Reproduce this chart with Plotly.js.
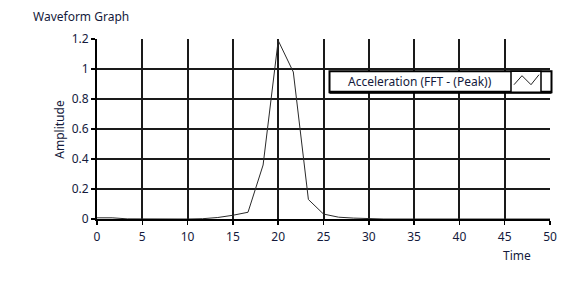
<!DOCTYPE html>
<html>
<head>
<meta charset="utf-8">
<script src="https://cdn.plot.ly/plotly-3.0.1.min.js"></script>
<style>html,body{margin:0;padding:0;background:#fff;}#chart{width:577px;height:296px;}</style>
</head>
<body>
<div id="chart"></div>
<script>
// Data (dt = 5/3)
const timeValues = [0, 1.667, 3.333, 5, 6.667, 8.333, 10, 11.667, 13.333, 15, 16.667, 18.333, 20, 21.667, 23.333, 25, 26.667, 28.333, 30, 31.667, 33.333, 35, 36.667, 38.333, 40, 41.667, 43.333, 45, 46.667, 48.333, 50];
const amplitudeValues = [0.008, 0.008, 0.001, 0, 0, 0, 0, 0.002, 0.01, 0.025, 0.045, 0.36, 1.19, 0.98, 0.13, 0.033, 0.012, 0.006, 0.002, 0, 0, 0, 0, 0, 0, 0, 0, 0, 0, 0, 0];
const seriesName = "Acceleration (FFT - (Peak))";
const xTickValues = [0, 5, 10, 15, 20, 25, 30, 35, 40, 45, 50];
const yTickValues = [0, 0.2, 0.4, 0.6, 0.8, 1, 1.2];
const yTickLabels = ["0", "0.2", "0.4", "0.6", "0.8", "1", "1.2"];

const FONT = "Noto Sans, Open Sans, DejaVu Sans, sans-serif";
const TXT = "#141a3c";

// pixel helpers for plot-area paper coords
const L = 97, R = 550, B = 219.3, T = 39.3;
const px = v => (v - L) / (R - L);
const py = v => (B - v) / (B - T);

const trace = {
  x: timeValues, y: amplitudeValues, type: "scatter", mode: "lines",
  name: seriesName, line: {color: "#2a2a2a", width: 1}, showlegend: false,
  cliponaxis: true
};

const axisCommon = {
  showgrid: true, gridcolor: "#1a1a1a", gridwidth: 2,
  showline: true, linecolor: "#000", linewidth: 2, mirror: false,
  zeroline: false, ticks: "outside", ticklen: 4, tickwidth: 1.5, tickcolor: "#000",
  tickfont: {family: FONT, size: 12, color: TXT}, fixedrange: true
};

const glyph = `M ${px(514)},${py(85)} L ${px(522)},${py(76)} L ${px(531)},${py(85)} L ${px(539)},${py(75)}`;

const layout = {
  width: 577, height: 296,
  margin: {l: L, r: 577 - R, t: T, b: 296 - B},
  paper_bgcolor: "#fff", plot_bgcolor: "#fff",
  showlegend: false,
  xaxis: Object.assign({}, axisCommon, {range: [0, 50], tickvals: xTickValues, ticklabelstandoff: 2}),
  yaxis: Object.assign({}, axisCommon, {range: [0, 1.2], tickvals: yTickValues, ticktext: yTickLabels}),
  shapes: [
    {type: "rect", xref: "paper", yref: "paper", x0: px(329.5), x1: px(551.5), y0: py(92.5), y1: py(71.5),
     fillcolor: "#fff", line: {color: "#000", width: 2}, layer: "above"},
    {type: "line", xref: "paper", yref: "paper", x0: px(329.5), x1: px(551.5), y0: py(92.5), y1: py(92.5),
     line: {color: "#000", width: 3}, layer: "above"},
    {type: "rect", xref: "paper", yref: "paper", x0: px(511), x1: px(541), y0: py(92.5), y1: py(71.5),
     fillcolor: "#fff", line: {color: "#000", width: 1.5}, layer: "above"},
    {type: "path", xref: "paper", yref: "paper", path: glyph, line: {color: "#222", width: 1}, layer: "above"}
  ],
  annotations: [
    {text: "Waveform Graph", xref: "paper", yref: "paper", x: px(31), y: py(17), xanchor: "left", yanchor: "middle",
     showarrow: false, font: {family: FONT, size: 12, color: TXT}},
    {text: "Amplitude", xref: "paper", yref: "paper", x: px(60), y: py(130), xanchor: "center", yanchor: "middle",
     textangle: -90, showarrow: false, font: {family: FONT, size: 12, color: TXT}},
    {text: "Time", xref: "paper", yref: "paper", x: px(517), y: py(256), xanchor: "center", yanchor: "middle",
     showarrow: false, font: {family: FONT, size: 12, color: TXT}},
    {text: seriesName, xref: "paper", yref: "paper", x: px(420), y: py(82), xanchor: "center", yanchor: "middle",
     showarrow: false, font: {family: FONT, size: 12, color: TXT}}
  ]
};

Plotly.newPlot("chart", [trace], layout, {staticPlot: true, displayModeBar: false});
</script>
</body>
</html>
